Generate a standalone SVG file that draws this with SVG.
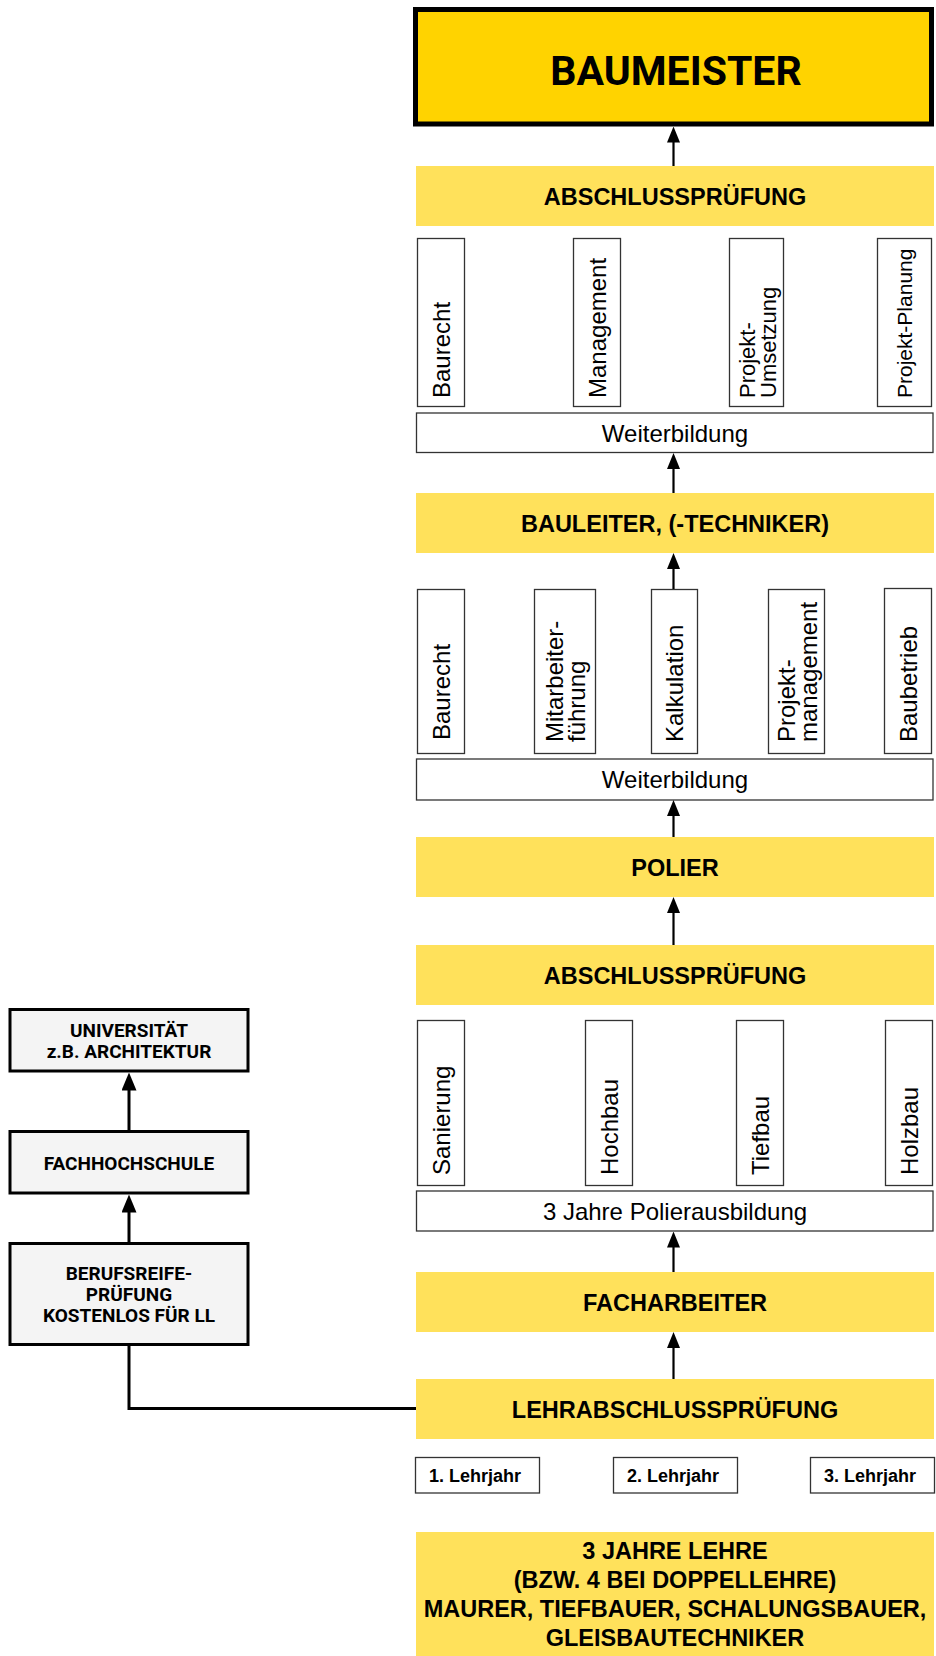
<svg xmlns="http://www.w3.org/2000/svg" width="936" height="1656" viewBox="0 0 936 1656">
<defs>
<style>
.band{fill:#FFE15B;}
.bt{font-family:"Liberation Sans",Arial,sans-serif;font-weight:bold;font-size:23.5px;fill:#000;text-anchor:middle;}
.wb{fill:#fff;stroke:#333;stroke-width:1.3;}
.rt{font-family:"Liberation Sans",Arial,sans-serif;font-size:24px;fill:#000;}
.rtc{font-family:"Liberation Sans",Arial,sans-serif;font-size:24px;fill:#000;text-anchor:middle;}
.ly{font-family:"Liberation Sans",Arial,sans-serif;font-weight:bold;font-size:18px;fill:#000;text-anchor:middle;}
.lb{fill:#F4F4F4;stroke:#000;stroke-width:3;}
.din{font-family:Roboto,"DejaVu Sans",sans-serif;font-weight:bold;font-size:19px;fill:#000;text-anchor:middle;}
.ar{fill:none;stroke:#000;stroke-width:2.2;marker-end:url(#ah);}
.arl{fill:none;stroke:#000;stroke-width:3;marker-end:url(#ahl);}
.cn{fill:none;stroke:#000;stroke-width:3;}
</style>
<marker id="ah" markerUnits="userSpaceOnUse" markerWidth="16" markerHeight="13" refX="6" refY="6.5" orient="auto">
<path d="M0,0 L16,6.5 L0,13 z" fill="#000"/>
</marker>
<marker id="ahl" markerUnits="userSpaceOnUse" markerWidth="18" markerHeight="15" refX="6" refY="7.5" orient="auto">
<path d="M0,0 L18,7.5 L0,15 z" fill="#000"/>
</marker>
</defs>
<rect width="936" height="1656" fill="#fff"/>

<g id="baumeister">
<rect x="415.5" y="9.5" width="516" height="114.5" fill="#FFD300" stroke="#000" stroke-width="5"/>
<text x="676" y="85" font-family="Roboto,'DejaVu Sans',sans-serif" font-weight="bold" font-size="41" text-anchor="middle" fill="#000">BAUMEISTER</text>
</g>

<g id="abschluss1">
<rect class="band" x="416" y="166" width="518" height="60"/>
<text class="bt" x="675" y="204.5">ABSCHLUSSPRÜFUNG</text>
</g>

<g id="module1">
<rect class="wb" x="417.5" y="238.5" width="47" height="168"/>
<text class="rt" transform="translate(449.5,398) rotate(-90)">Baurecht</text>
<rect class="wb" x="573.5" y="238.5" width="47" height="168"/>
<text class="rt" transform="translate(605.5,398) rotate(-90)">Management</text>
<rect class="wb" x="729.5" y="238.5" width="54" height="168"/>
<text class="rt" font-size="22" style="font-size:22px" transform="translate(754.5,398) rotate(-90)">Projekt-<tspan x="0" dy="21">Umsetzung</tspan></text>
<rect class="wb" x="877.5" y="238.5" width="54" height="168"/>
<text class="rt" style="font-size:21px" transform="translate(911.5,398) rotate(-90)">Projekt-Planung</text>
</g>

<g id="weiterbildung1">
<rect class="wb" x="416.5" y="413" width="516.5" height="39.5"/>
<text class="rtc" x="675" y="441.5">Weiterbildung</text>
</g>

<g id="bauleiter">
<rect class="band" x="416" y="493" width="518" height="60"/>
<text class="bt" x="675" y="531.5">BAULEITER, (-TECHNIKER)</text>
</g>

<g id="module2">
<rect class="wb" x="417.5" y="589.5" width="47" height="164"/>
<text class="rt" transform="translate(449.5,740) rotate(-90)">Baurecht</text>
<rect class="wb" x="534.5" y="589.5" width="61" height="164"/>
<text class="rt" transform="translate(563,742) rotate(-90)">Mitarbeiter-<tspan x="0" dy="22">führung</tspan></text>
<rect class="wb" x="651.5" y="589.5" width="46" height="164"/>
<text class="rt" transform="translate(683,742) rotate(-90)">Kalkulation</text>
<rect class="wb" x="768.5" y="589.5" width="56" height="164"/>
<text class="rt" transform="translate(794.5,742) rotate(-90)">Projekt-<tspan x="0" dy="22">management</tspan></text>
<rect class="wb" x="884.5" y="588.5" width="47" height="165"/>
<text class="rt" transform="translate(916.5,742) rotate(-90)">Baubetrieb</text>
</g>

<g id="weiterbildung2">
<rect class="wb" x="416.5" y="759" width="516.5" height="41"/>
<text class="rtc" x="675" y="788">Weiterbildung</text>
</g>

<g id="polier">
<rect class="band" x="416" y="837" width="518" height="60"/>
<text class="bt" x="675" y="875.5">POLIER</text>
</g>

<g id="abschluss2">
<rect class="band" x="416" y="945" width="518" height="60"/>
<text class="bt" x="675" y="983.5">ABSCHLUSSPRÜFUNG</text>
</g>

<g id="module3">
<rect class="wb" x="417.5" y="1020.5" width="47" height="165"/>
<text class="rt" transform="translate(449.5,1175) rotate(-90)">Sanierung</text>
<rect class="wb" x="585.5" y="1020.5" width="47" height="165"/>
<text class="rt" transform="translate(617.5,1175) rotate(-90)">Hochbau</text>
<rect class="wb" x="736.5" y="1020.5" width="47" height="165"/>
<text class="rt" transform="translate(768.5,1175) rotate(-90)">Tiefbau</text>
<rect class="wb" x="885.5" y="1020.5" width="47" height="165"/>
<text class="rt" transform="translate(917.5,1175) rotate(-90)">Holzbau</text>
</g>

<g id="polierausbildung">
<rect class="wb" x="416.5" y="1191" width="516.5" height="40"/>
<text class="rtc" x="675" y="1219.5">3 Jahre Polierausbildung</text>
</g>

<g id="facharbeiter">
<rect class="band" x="416" y="1272" width="518" height="60"/>
<text class="bt" x="675" y="1310.5">FACHARBEITER</text>
</g>

<g id="lehrabschluss">
<rect class="band" x="416" y="1379" width="518" height="60"/>
<text class="bt" x="675" y="1417.5">LEHRABSCHLUSSPRÜFUNG</text>
</g>

<g id="lehrjahre">
<rect class="wb" x="415.5" y="1457.5" width="124" height="35.5"/>
<text class="ly" x="475" y="1481.5">1. Lehrjahr</text>
<rect class="wb" x="613.5" y="1457.5" width="124" height="35.5"/>
<text class="ly" x="673" y="1481.5">2. Lehrjahr</text>
<rect class="wb" x="810.5" y="1457.5" width="124" height="35.5"/>
<text class="ly" x="870" y="1481.5">3. Lehrjahr</text>
</g>

<g id="lehre">
<rect class="band" x="416" y="1532" width="518" height="124"/>
<text class="bt" x="675" y="1559">3 JAHRE LEHRE</text>
<text class="bt" x="675" y="1588">(BZW. 4 BEI DOPPELLEHRE)</text>
<text class="bt" x="675" y="1617">MAURER, TIEFBAUER, SCHALUNGSBAUER,</text>
<text class="bt" x="675" y="1645.5">GLEISBAUTECHNIKER</text>
</g>

<g id="universitaet">
<rect class="lb" x="10" y="1009.5" width="238" height="61.5"/>
<text class="din" x="129" y="1036.5">UNIVERSITÄT</text>
<text class="din" x="129" y="1057.5">z.B. ARCHITEKTUR</text>
</g>

<g id="fachhochschule">
<rect class="lb" x="10" y="1131.5" width="238" height="61.5"/>
<text class="din" x="129" y="1169.5">FACHHOCHSCHULE</text>
</g>

<g id="berufsreife">
<rect class="lb" x="10" y="1243.5" width="238" height="101"/>
<text class="din" x="129" y="1280">BERUFSREIFE-</text>
<text class="din" x="129" y="1301">PRÜFUNG</text>
<text class="din" x="129" y="1322">KOSTENLOS FÜR LL</text>
</g>

<g id="connectors">
<line class="ar" x1="673.5" y1="166" x2="673.5" y2="136.5"/>
<line class="ar" x1="673.5" y1="493" x2="673.5" y2="463"/>
<line class="ar" x1="673.5" y1="589" x2="673.5" y2="563"/>
<line class="ar" x1="673.5" y1="837" x2="673.5" y2="810"/>
<line class="ar" x1="673.5" y1="945" x2="673.5" y2="907"/>
<line class="ar" x1="673.5" y1="1272" x2="673.5" y2="1241.5"/>
<line class="ar" x1="673.5" y1="1379" x2="673.5" y2="1342"/>
<line class="arl" x1="129" y1="1130" x2="129" y2="1084.5"/>
<line class="arl" x1="129" y1="1242" x2="129" y2="1206.5"/>
<path class="cn" d="M129,1346 V1408.5 H416"/>
</g>
</svg>
